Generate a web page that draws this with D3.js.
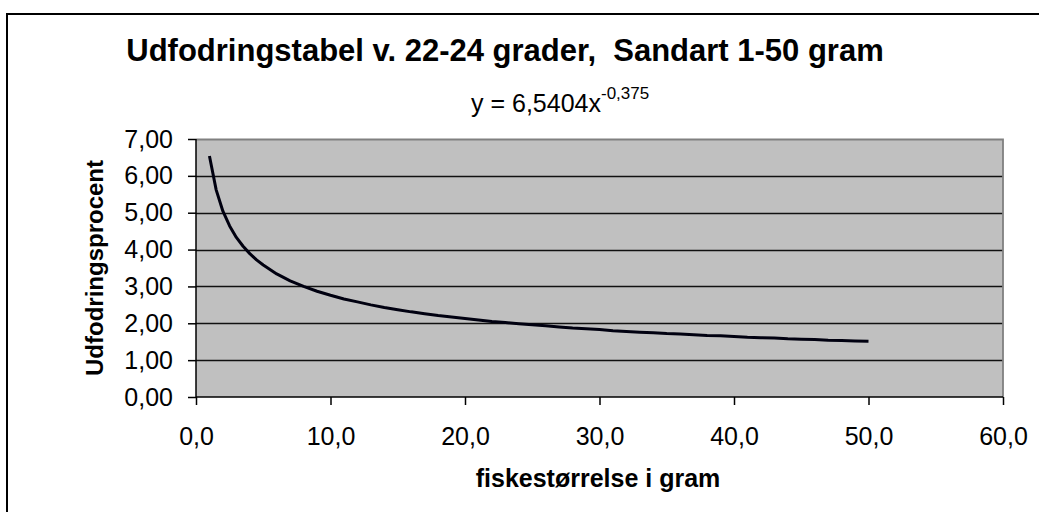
<!DOCTYPE html>
<html>
<head>
<meta charset="utf-8">
<script src="https://cdn.jsdelivr.net/npm/d3@7"></script>
<style>
  html, body { margin: 0; padding: 0; background: #fff; }
  svg { display: block; }
  text { font-family: "Liberation Sans", Arial, sans-serif; fill: #000; }
</style>
</head>
<body>
<svg id="chart" width="1039" height="512"></svg>
<script>
// Feeding table for pikeperch (sandart) at 22-24 °C: fish size in grams vs. feeding percent
const sizes = [1, 1.5, 2, 2.5, 3, 3.5, 4, 4.5, 5, 6, 7, 8, 9, 10,
  11, 12, 13, 14, 15, 16, 17, 18, 19, 20, 21, 22, 23, 24, 25, 26, 27, 28, 29, 30,
  31, 32, 33, 34, 35, 36, 37, 38, 39, 40, 41, 42, 43, 44, 45, 46, 47, 48, 49, 50];
const feedPct = [6.54, 5.62, 5.04, 4.64, 4.33, 4.09, 3.89, 3.72, 3.58, 3.34, 3.15, 3.00, 2.87, 2.76,
  2.66, 2.58, 2.50, 2.43, 2.37, 2.31, 2.26, 2.21, 2.17, 2.13, 2.09, 2.05, 2.02, 1.99, 1.96, 1.93, 1.90, 1.87, 1.85, 1.83,
  1.80, 1.78, 1.76, 1.74, 1.72, 1.71, 1.69, 1.67, 1.66, 1.64, 1.62, 1.61, 1.60, 1.58, 1.57, 1.56, 1.54, 1.53, 1.52, 1.51];
const xTicks = [0, 10, 20, 30, 40, 50, 60];
const yTicks = [0, 1, 2, 3, 4, 5, 6, 7];

const titleText = "Udfodringstabel v. 22-24 grader,\u00a0 Sandart 1-50 gram";
const xTitle = "fiskestørrelse i gram";
const yTitle = "Udfodringsprocent";
const eqMain = "y = 6,5404x";
const eqExp = "-0,375";

const svg = d3.select("#chart");
const plot = { left: 196, right: 1003, top: 139, bottom: 397 };

const x = d3.scaleLinear().domain([0, 60]).range([plot.left, plot.right]);
const y = d3.scaleLinear().domain([0, 7]).range([plot.bottom, plot.top]);
const comma = f => v => d3.format(f)(v).replace(".", ",");

// outer chart frame
svg.append("rect")
  .attr("x", 7).attr("y", 14).attr("width", 1060).attr("height", 520)
  .attr("fill", "#fff").attr("stroke", "#000").attr("stroke-width", 2);

// title
svg.append("text")
  .attr("x", 505).attr("y", 61)
  .attr("text-anchor", "middle")
  .attr("font-size", 31).attr("font-weight", "bold")
  .text(titleText);

// trendline equation with superscript exponent
const eq = svg.append("text")
  .attr("x", 471).attr("y", 112)
  .attr("font-size", 25);
eq.append("tspan").text(eqMain);
eq.append("tspan").attr("font-size", 17).attr("dy", -13).text(eqExp);

// plot area background
svg.append("rect")
  .attr("x", plot.left).attr("y", plot.top)
  .attr("width", plot.right - plot.left).attr("height", plot.bottom - plot.top)
  .attr("fill", "#c0c0c0");

// horizontal gridlines
svg.append("g")
  .selectAll("line")
  .data(yTicks.filter(v => v > 0 && v < 7))
  .join("line")
  .attr("x1", plot.left).attr("x2", plot.right)
  .attr("y1", d => Math.round(y(d)) + 0.5).attr("y2", d => Math.round(y(d)) + 0.5)
  .attr("stroke", "#111").attr("stroke-width", 1.3);

// plot area border (top and right)
svg.append("path")
  .attr("d", `M${plot.left},${plot.top + 0.5}H${plot.right}V${plot.bottom}`)
  .attr("fill", "none").attr("stroke", "#808080").attr("stroke-width", 1.8);

// y axis
const yAxis = svg.append("g")
  .attr("transform", `translate(${plot.left},0)`)
  .call(d3.axisLeft(y).tickValues(yTicks).tickFormat(comma(".2f")).tickSize(8).tickPadding(15));
// x axis
const xAxis = svg.append("g")
  .attr("transform", `translate(0,${plot.bottom})`)
  .call(d3.axisBottom(x).tickValues(xTicks).tickFormat(comma(".1f")).tickSize(8).tickPadding(22));

[yAxis, xAxis].forEach(g => {
  g.select(".domain").attr("stroke", "#000").attr("stroke-width", 1.5);
  g.selectAll(".tick line").attr("stroke", "#000").attr("stroke-width", 1.5);
  g.selectAll(".tick text")
    .attr("font-family", "'Liberation Sans', Arial, sans-serif")
    .attr("font-size", 25).attr("fill", "#000");
});
xAxis.select(".domain").attr("d", `M${plot.left},0H${plot.right}`);
yAxis.select(".domain").attr("d", `M0,${plot.top}V${plot.bottom}`);

// feeding curve
const line = d3.line().x((d, i) => x(sizes[i])).y(d => y(d));
svg.append("path")
  .datum(feedPct)
  .attr("d", line)
  .attr("fill", "none")
  .attr("stroke", "#000010")
  .attr("stroke-width", 3)
  .attr("stroke-linejoin", "round");

// axis titles
svg.append("text")
  .attr("x", 598).attr("y", 487)
  .attr("text-anchor", "middle")
  .attr("font-size", 25).attr("font-weight", "bold")
  .text(xTitle);

svg.append("text")
  .attr("transform", "translate(103,268) rotate(-90)")
  .attr("text-anchor", "middle")
  .attr("font-size", 24).attr("font-weight", "bold")
  .text(yTitle);
</script>
</body>
</html>
